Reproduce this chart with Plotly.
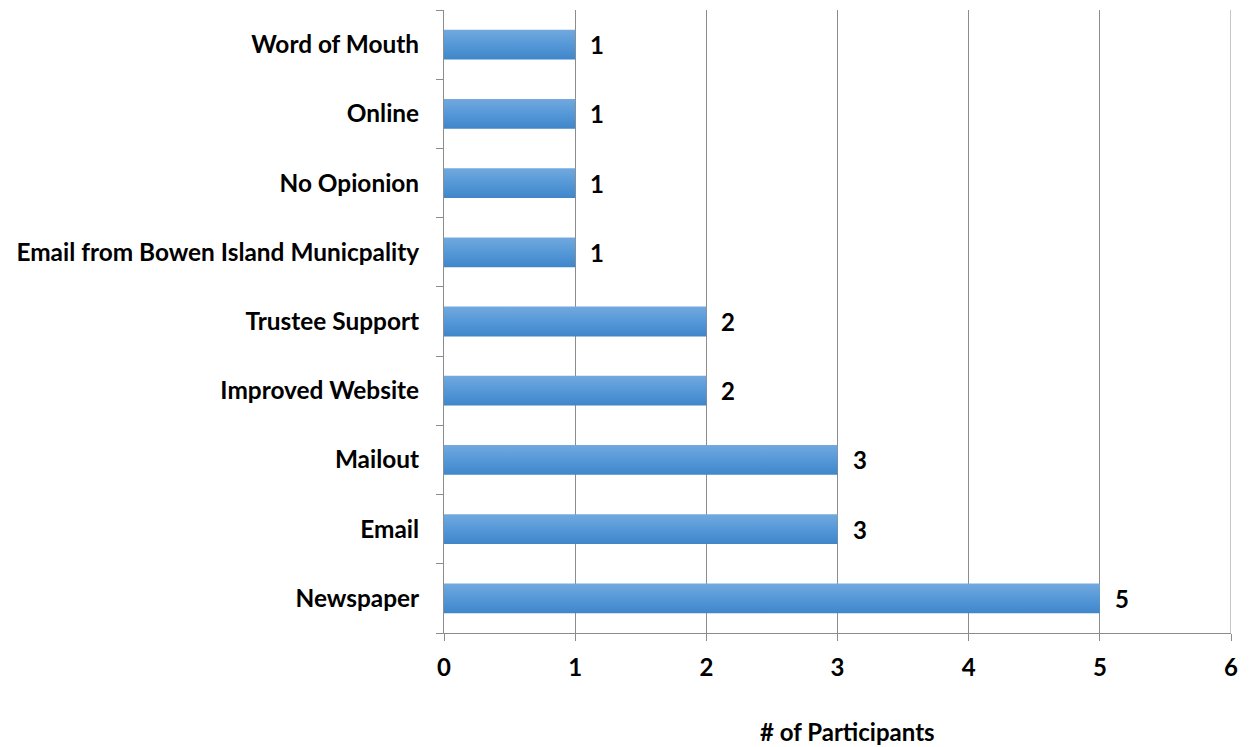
import plotly.graph_objects as go

# bottom-to-top order
sources = ['Newspaper', 'Email', 'Mailout', 'Improved Website', 'Trustee Support',
           'Email from Bowen Island Municpality', 'No Opionion', 'Online', 'Word of Mouth']
participants = [5, 3, 3, 2, 2, 1, 1, 1, 1]
x_ticks = [0, 1, 2, 3, 4, 5, 6]

font_name = 'Lato'
fsize = 24
grey = '#8c8c8c'
half = 0.215  # half bar thickness in category units

fig = go.Figure()
for i, v in enumerate(participants):
    fig.add_trace(go.Scatter(
        x=[0, v, v, 0, 0], y=[i - half, i - half, i + half, i + half, i - half],
        mode='lines', line=dict(width=0), fill='toself',
        fillgradient=dict(type='vertical', start=i - half, stop=i + half,
                          colorscale=[[0, '#3f86c9'], [0.5, '#5598d8'], [1, '#72a9de']]),
        hoverinfo='skip',
    ))
    # value label to the right of the bar
    fig.add_annotation(x=v, y=i, text='<b>%d</b>' % v, showarrow=False,
                       xanchor='left', xshift=13,
                       font=dict(family=font_name, size=fsize, color='black'))

fig.add_annotation(xref='paper', yref='paper', x=0.5, y=0, xshift=10, yshift=-98,
                   text='<b># of Participants</b>', showarrow=False,
                   xanchor='center', yanchor='middle',
                   font=dict(family=font_name, size=fsize, color='black'))

fig.update_layout(
    width=1250, height=747,
    margin=dict(l=436, r=27, t=2, b=122, autoexpand=False),
    plot_bgcolor='white', paper_bgcolor='white',
    showlegend=False,
    font=dict(family=font_name, size=fsize, color='black'),
)
fig.update_xaxes(
    range=[0, 6], tickvals=x_ticks, ticktext=['<b>%d</b>' % t for t in x_ticks],
    showgrid=True, gridcolor=grey, gridwidth=1,
    showline=True, linecolor=grey, linewidth=1,
    ticks='outside', ticklen=7, tickcolor=grey, ticklabelstandoff=6,
    zeroline=False, automargin=False,
)
fig.update_yaxes(
    range=[-0.5, len(sources) - 0.5],
    tickvals=list(range(len(sources))), ticktext=['<b>%s</b>' % s for s in sources],
    tickfont=dict(size=24.4),
    showgrid=False, zeroline=False, showline=True, linecolor=grey, linewidth=1,
    ticks='', ticklabelstandoff=19, automargin=False,
    minor=dict(tickvals=[i - 0.5 for i in range(len(sources) + 1)],
               ticks='outside', ticklen=7, tickcolor=grey, showgrid=False),
)
# right frame edge at x=6
fig.add_shape(type='line', xref='x', yref='paper', x0=6, x1=6, y0=0, y1=1,
              line=dict(color=grey, width=1))

fig.write_html('out.html')
